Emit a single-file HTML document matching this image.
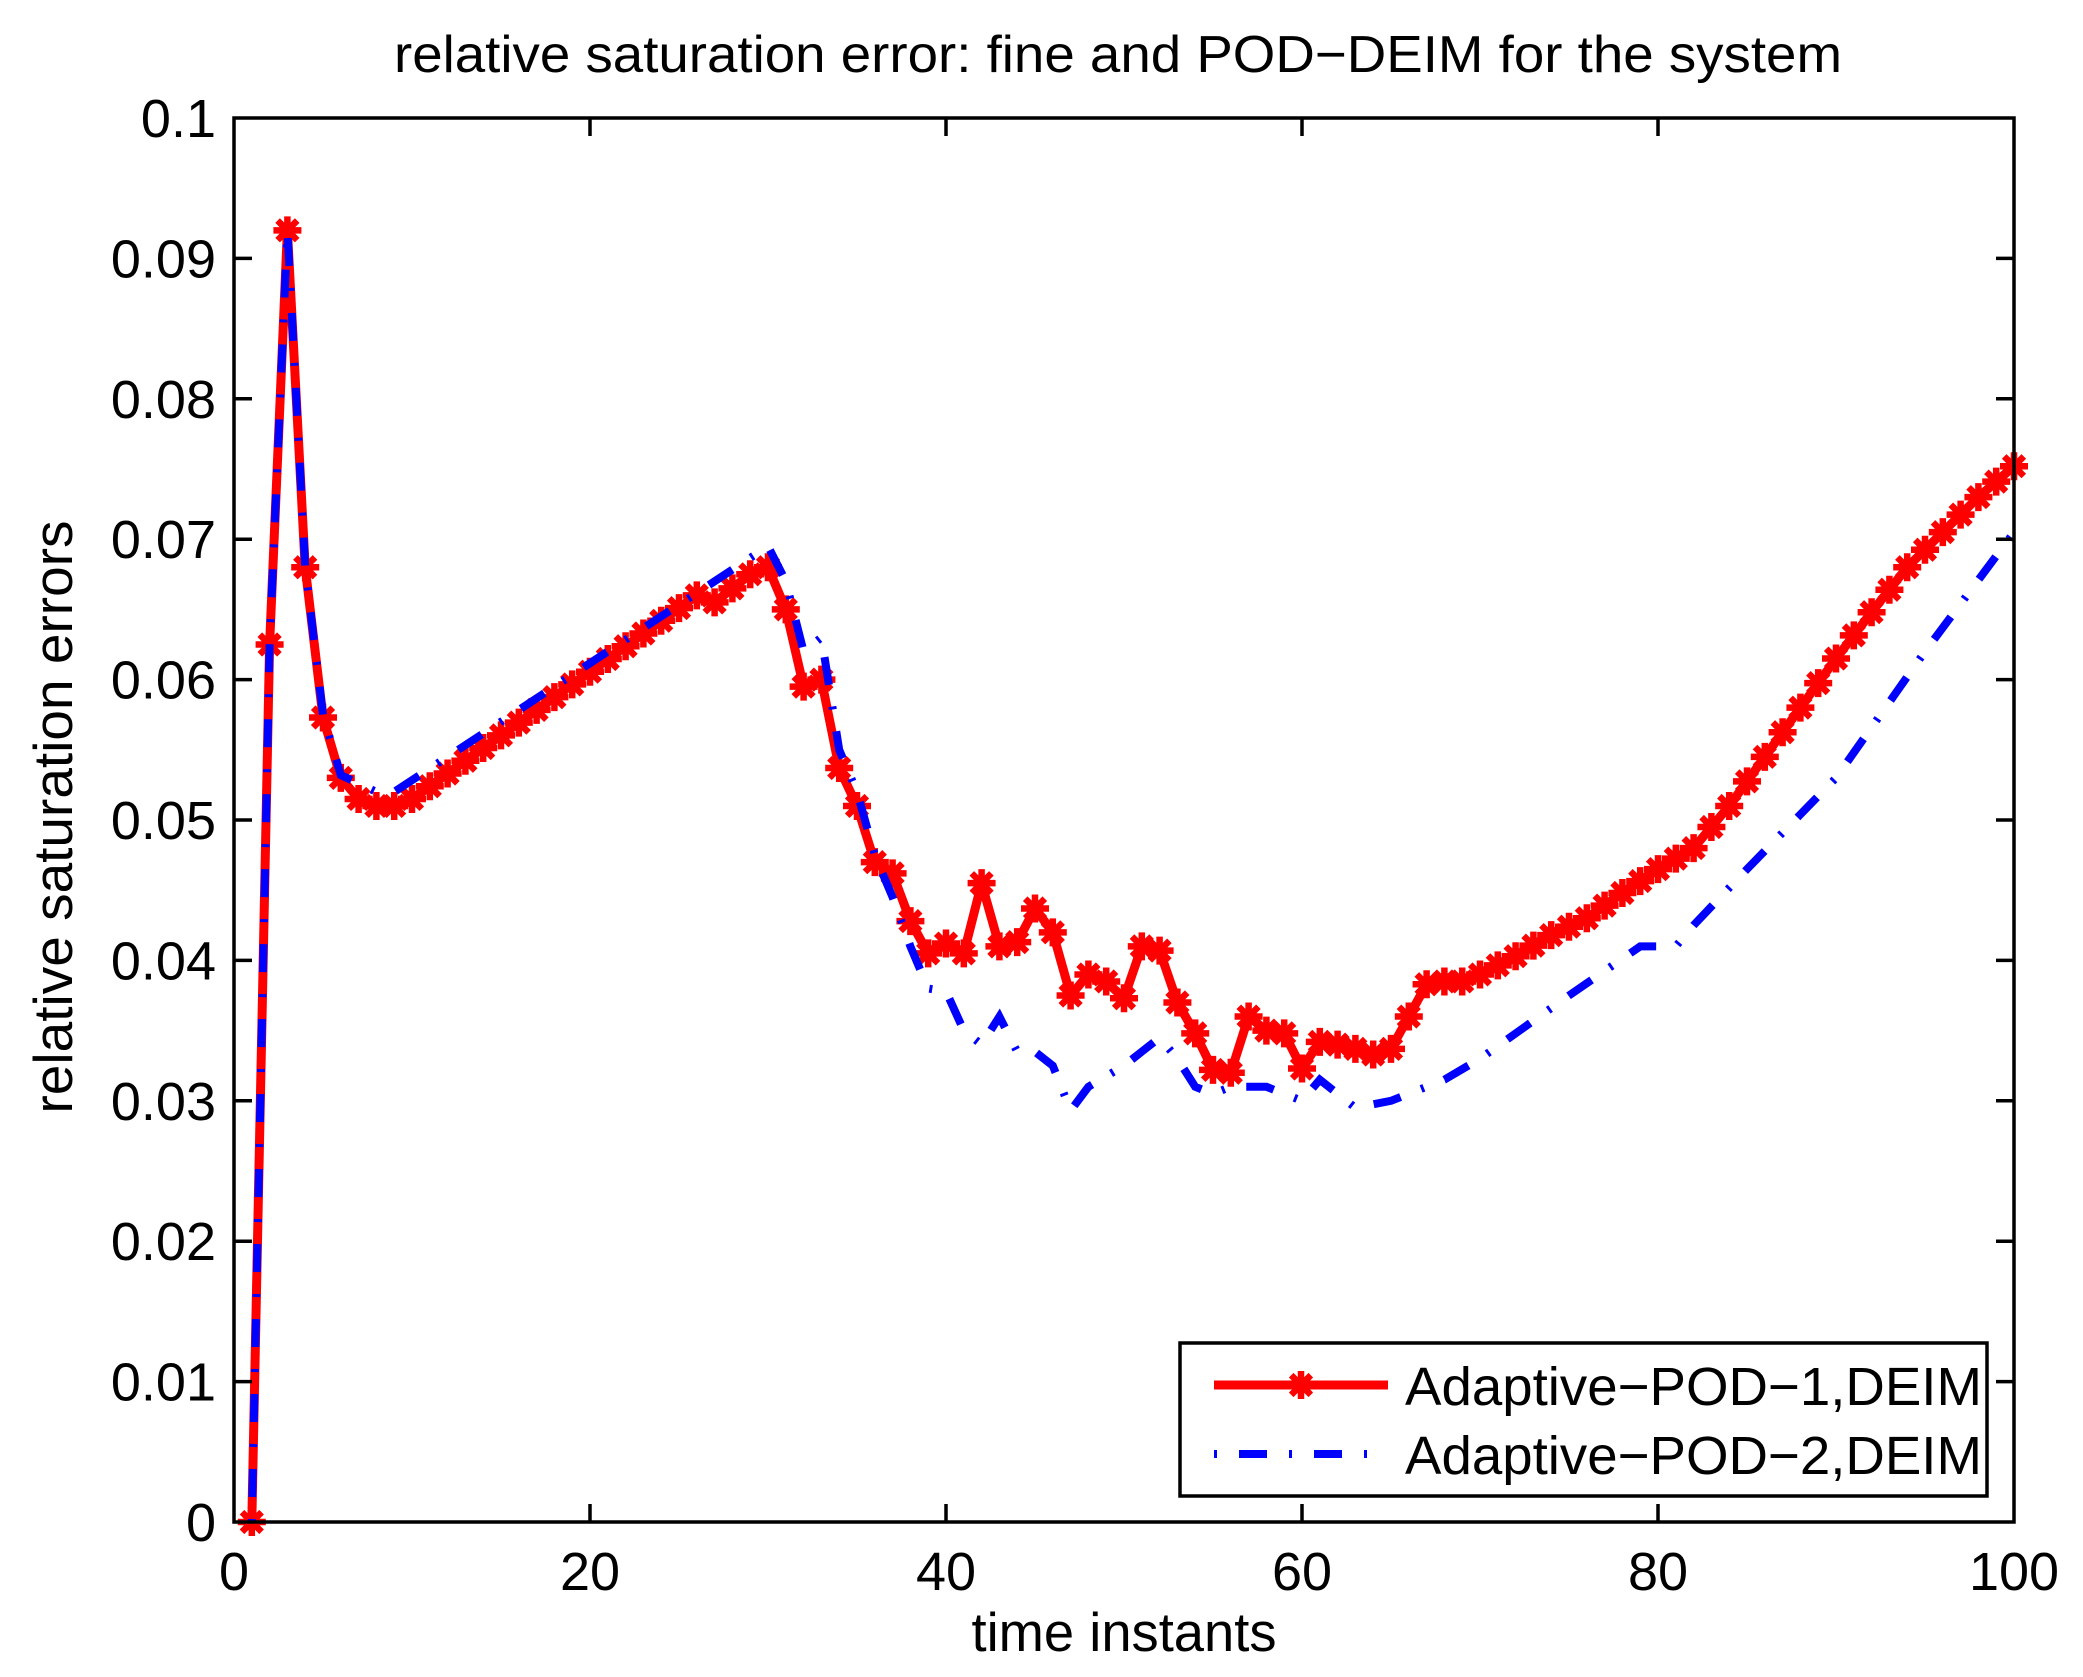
<!DOCTYPE html>
<html><head><meta charset="utf-8"><style>
html,body{margin:0;padding:0;background:#fff;}
svg{display:block;}
text{font-family:"Liberation Sans",Arial,sans-serif;fill:#000;}
</style></head><body>
<svg id="s" width="2083" height="1677" viewBox="0 0 2083 1677" xmlns="http://www.w3.org/2000/svg">
<rect x="0" y="0" width="2083" height="1677" fill="#fff"/>
<g id="plot"></g>
<rect x="234" y="118" width="1780" height="1404" fill="none" stroke="#000" stroke-width="3.5"/>
<g id="ticks" stroke="#000" stroke-width="3.5"></g>
<g id="labels" font-size="54"></g>
<text x="1118" y="72" font-size="52" textLength="1448" lengthAdjust="spacingAndGlyphs" text-anchor="middle">relative saturation error: fine and POD−DEIM for the system</text>
<text x="1124" y="1651" font-size="55" textLength="305" lengthAdjust="spacingAndGlyphs" text-anchor="middle">time instants</text>
<text transform="translate(72,817) rotate(-90)" font-size="55" text-anchor="middle">relative saturation errors</text>
<rect x="1180" y="1343" width="807" height="153" fill="#fff" stroke="#000" stroke-width="3.5"/>
<line x1="1214" y1="1385" x2="1388" y2="1385" stroke="#f00" stroke-width="9"/>
<g id="legm"></g>
<line x1="1214" y1="1454" x2="1388" y2="1454" stroke="#00f" stroke-width="8" stroke-dasharray="3,22,28,22"/>
<text x="1405" y="1405" font-size="54" textLength="577" lengthAdjust="spacingAndGlyphs">Adaptive−POD−1,DEIM</text>
<text x="1405" y="1474" font-size="54" textLength="577" lengthAdjust="spacingAndGlyphs">Adaptive−POD−2,DEIM</text>
</svg>
<script>
var NS="http://www.w3.org/2000/svg";
function X(t){return 234+t*17.8;}
function Y(v){return 1522-v*14040;}
function el(p,n,a,txt){var e=document.createElementNS(NS,n);for(var k in a)e.setAttribute(k,a[k]);if(txt!==undefined)e.textContent=txt;p.appendChild(e);return e;}
function interp(pts){var o=[];for(var i=0;i<pts.length-1;i++){var a=pts[i],b=pts[i+1];for(var t=a[0];t<b[0];t++){o.push([t,a[1]+(b[1]-a[1])*(t-a[0])/(b[0]-a[0])]);}}o.push(pts[pts.length-1]);return o;}
var red=interp([[1,0],[2,0.0625],[3,0.092],[4,0.068],[5,0.0573],[6,0.053],[7,0.0515],[8,0.051],[9,0.051],[10,0.0515],[26,0.066],[27,0.0655],[28,0.0665],[29,0.0675],[30,0.068],[31,0.065],[32,0.0595],[33,0.06],[34,0.0537],[35,0.051],[36,0.047],[37,0.0462],[38,0.0428],[39,0.0405],[40,0.0412],[41,0.0405],[42,0.0455],[43,0.041],[44,0.0413],[45,0.0437],[46,0.042],[47,0.0375],[48,0.039],[49,0.0385],[50,0.0373],[51,0.041],[52,0.0407],[53,0.037],[54,0.0348],[55,0.0322],[56,0.032],[57,0.036],[58,0.035],[59,0.0348],[60,0.0323],[61,0.0342],[62,0.034],[63,0.0337],[64,0.0333],[65,0.0337],[66,0.036],[67,0.0383],[68,0.0385],[69,0.0385],[70,0.039],[72,0.0403],[74,0.0418],[76,0.043],[78,0.0448],[80,0.0465],[82,0.048],[84,0.051],[86,0.0545],[88,0.058],[90,0.0615],[92,0.0648],[94,0.068],[96,0.0705],[98,0.073],[100,0.0752]]);
var blue=[[1,0],[2,0.0625],[3,0.092],[4,0.068],[5,0.0575],[6,0.0532],[8,0.052],[9,0.052],[30,0.0695],[31,0.067],[32,0.062],[33,0.063],[34,0.055],[35,0.052],[36,0.0475],[37,0.0445],[38,0.041],[39,0.038],[40,0.0378],[41,0.035],[42,0.034],[43,0.036],[44,0.0335],[45,0.0335],[46,0.0325],[47,0.0293],[48,0.031],[50,0.0325],[52,0.0345],[53,0.033],[54,0.031],[55,0.0305],[56,0.031],[58,0.031],[60,0.030],[61,0.0315],[63,0.0295],[65,0.030],[68,0.0315],[70,0.033],[75,0.0375],[79,0.041],[81,0.041],[82,0.0425],[85,0.0465],[90,0.053],[95,0.062],[100,0.0705]];
var plot=document.getElementById("plot");
function pstr(a){return a.map(function(p){return X(p[0]).toFixed(1)+","+Y(p[1]).toFixed(1);}).join(" ");}
el(plot,"polyline",{points:pstr(red),fill:"none",stroke:"#f00","stroke-width":9,"stroke-linejoin":"round"});
function star(g,x,y){var r=14;var d="M"+(x-r)+","+y+"L"+(x+r)+","+y+"M"+x+","+(y-r)+"L"+x+","+(y+r)+"M"+(x-r*0.7)+","+(y-r*0.7)+"L"+(x+r*0.7)+","+(y+r*0.7)+"M"+(x-r*0.7)+","+(y+r*0.7)+"L"+(x+r*0.7)+","+(y-r*0.7);el(g,"path",{d:d,stroke:"#f00","stroke-width":6.5,fill:"none"});}
red.forEach(function(p){star(plot,X(p[0]),Y(p[1]));});
el(plot,"polyline",{points:pstr(blue),fill:"none",stroke:"#00f","stroke-width":8,"stroke-dasharray":"3,22,28,22"});
star(document.getElementById("legm"),1301,1385);
var tk=document.getElementById("ticks"),lb=document.getElementById("labels");
for(var i=0;i<=10;i++){var y=Y(i*0.01);
 if(i>0&&i<10){el(tk,"line",{x1:234,y1:y,x2:252,y2:y});el(tk,"line",{x1:2014,y1:y,x2:1996,y2:y});}
 el(lb,"text",{x:216,y:y+19,"text-anchor":"end"},i==0?"0":(i==10?"0.1":"0.0"+i));}
for(var j=0;j<=5;j++){var x=X(j*20);
 if(j>0&&j<5){el(tk,"line",{x1:x,y1:1522,x2:x,y2:1504});el(tk,"line",{x1:x,y1:118,x2:x,y2:136});}
 el(lb,"text",{x:x,y:1590,"text-anchor":"middle"},String(j*20));}
</script>
</body></html>
